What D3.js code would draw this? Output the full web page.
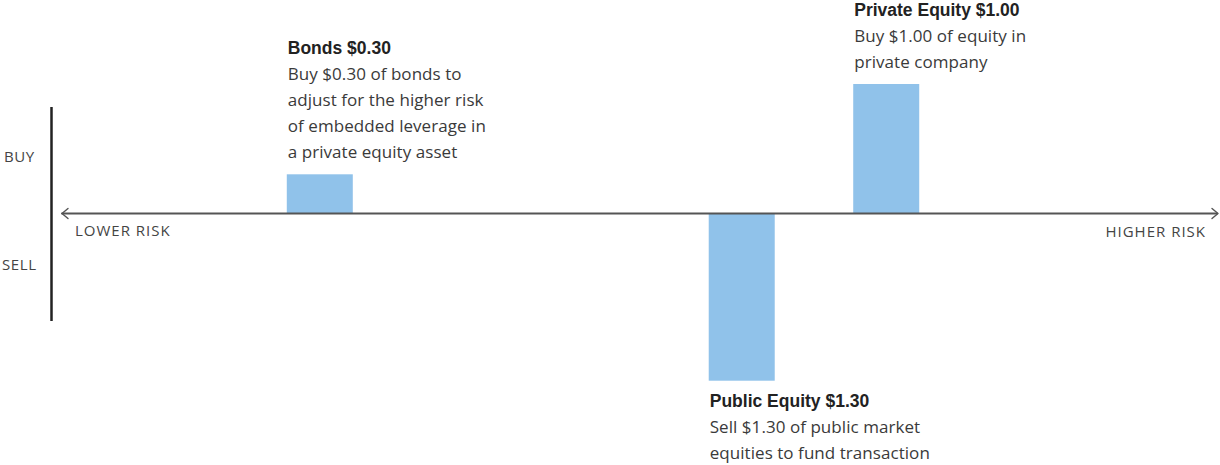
<!DOCTYPE html>
<html>
<head>
<meta charset="utf-8">
<script src="https://cdn.jsdelivr.net/npm/d3@7"></script>
<style>
  html, body { margin: 0; padding: 0; background: #fff; }
  svg { display: block; }
  text { font-family: "Open Sans", "Liberation Sans", Arial, sans-serif; }
  text.title { font-family: "Liberation Sans", Arial, sans-serif; }
</style>
</head>
<body>
<svg id="chart" width="1220" height="465"></svg>
<script>
// Trades needed to replicate a $1.00 private equity position
const assets = ["Bonds", "Public Equity", "Private Equity"];
const amounts = [0.30, -1.30, 1.00];          // + buy, - sell
const riskLevel = [22.3, 58.8, 71.3];         // position on the lower→higher risk spectrum (0–100)
const titles = ["Bonds $0.30", "Public Equity $1.30", "Private Equity $1.00"];
const notes = [
  ["Buy $0.30 of bonds to", "adjust for the higher risk", "of embedded leverage in", "a private equity asset"],
  ["Sell $1.30 of public market", "equities to fund transaction"],
  ["Buy $1.00 of equity in", "private company"]
];
const sideLabels = ["BUY", "SELL"];
const riskLabels = ["LOWER RISK", "HIGHER RISK"];

const svg = d3.select("#chart");

const x = d3.scaleLinear().domain([0, 100]).range([62, 1218]);
const y = d3.scaleLinear().domain([-1.30, 1.00]).range([380.7, 84]);
const barW = 66;
const lineH = 26;

const rows = assets.map((a, i) => ({
  asset: a, value: amounts[i], risk: riskLevel[i], title: titles[i], note: notes[i]
}));

// bars
svg.append("g").selectAll("rect")
  .data(rows)
  .join("rect")
  .attr("x", d => x(d.risk) - barW / 2)
  .attr("width", barW)
  .attr("y", d => y(Math.max(0, d.value)))
  .attr("height", d => Math.abs(y(d.value) - y(0)))
  .attr("fill", "#90c2ea");

// risk axis with open arrowheads at both ends
const axisY = y(0) + 0.5;
const axisG = svg.append("g")
  .attr("stroke", "#555").attr("fill", "none")
  .attr("stroke-linecap", "round").attr("stroke-linejoin", "round");
axisG.append("line")
  .attr("x1", x(0)).attr("x2", x(100) - 1)
  .attr("y1", axisY).attr("y2", axisY)
  .attr("stroke-width", 2);
axisG.append("path")
  .attr("d", `M${x(0) + 6},${axisY - 5} L${x(0)},${axisY} L${x(0) + 6},${axisY + 5}`)
  .attr("stroke-width", 1.4);
axisG.append("path")
  .attr("d", `M${x(100) - 6},${axisY - 5} L${x(100)},${axisY} L${x(100) - 6},${axisY + 5}`)
  .attr("stroke-width", 1.4);

// buy / sell divider
svg.append("line")
  .attr("x1", 51.5).attr("x2", 51.5)
  .attr("y1", 107).attr("y2", 321)
  .attr("stroke", "#222").attr("stroke-width", 2.5);

const small = (t, xx, yy, anchor, ls) => svg.append("text").text(t)
  .attr("x", xx).attr("y", yy).attr("text-anchor", anchor || "start")
  .attr("font-size", 15).attr("fill", "#444").attr("letter-spacing", ls);

small(sideLabels[0], 4, 162, "start", 0.6);
small(sideLabels[1], 2, 270, "start", 0.6);
small(riskLabels[0], 75, 236, "start", 1.0);
small(riskLabels[1], 1206, 237, "end", 1.0);

// annotations
const ann = svg.append("g").selectAll("g")
  .data(rows)
  .join("g")
  .attr("transform", d => {
    const left = x(d.risk) - barW / 2 + 1;
    let top;
    if (d.value >= 0) {
      const lastBase = y(d.value) - 16;
      top = lastBase - d.note.length * lineH;
    } else {
      top = y(d.value) + 26;
    }
    return `translate(${left},${top})`;
  });

ann.append("text")
  .attr("class", "title")
  .text(d => d.title)
  .attr("font-size", 17.5).attr("font-weight", 700).attr("fill", "#222");

ann.each(function(d) {
  d3.select(this).selectAll("text.note")
    .data(d.note)
    .join("text")
    .attr("class", "note")
    .attr("y", (t, i) => (i + 1) * lineH)
    .attr("font-size", 17).attr("fill", "#3a3a3a")
    .attr("letter-spacing", 0.05)
    .text(t => t);
});
</script>
</body>
</html>
